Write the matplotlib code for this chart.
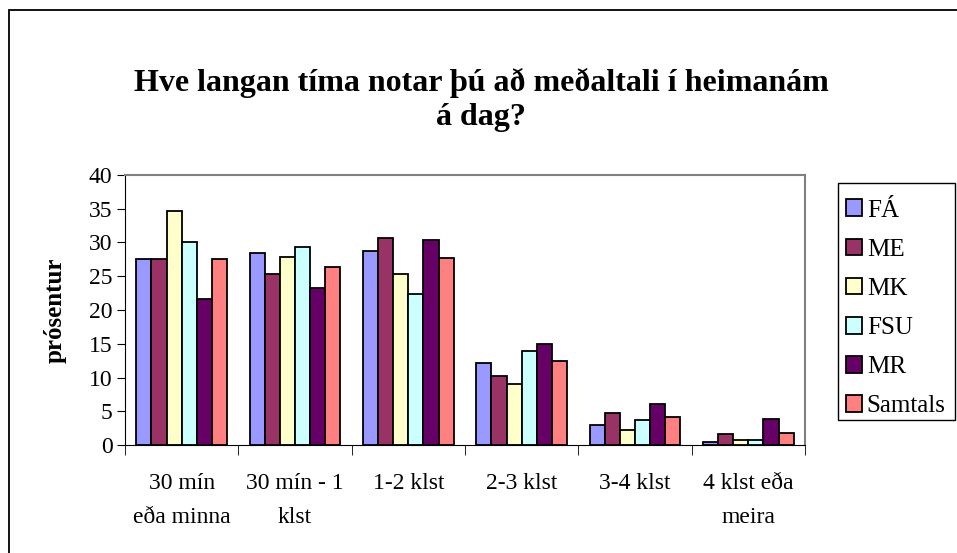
import numpy as np
import matplotlib
matplotlib.use('Agg')
import matplotlib.pyplot as plt
from matplotlib.patches import Rectangle

plt.rcParams['font.family'] = ['Liberation Serif', 'DejaVu Serif']

categories = ['30 mín\neða minna', '30 mín - 1\nklst', '1-2 klst', '2-3 klst',
              '3-4 klst', '4 klst eða\nmeira']
series_names = ['FÁ', 'ME', 'MK', 'FSU', 'MR', 'Samtals']
fa = [27.5, 28.5, 28.8, 12.2, 2.9, 0.4]
me = [27.5, 25.3, 30.7, 10.2, 4.8, 1.6]
mk = [34.6, 27.9, 25.4, 9.1, 2.2, 0.8]
fsu = [30.1, 29.3, 22.3, 14.0, 3.7, 0.7]
mr = [21.7, 23.2, 30.4, 14.9, 6.1, 3.9]
samtals = [27.5, 26.4, 27.7, 12.5, 4.2, 1.8]
colors = ['#9999FF', '#993366', '#FFFFCC', '#CCFFFF', '#660066', '#FF8080']

fig = plt.figure(figsize=(9.57, 5.53), dpi=100)
ax = fig.add_axes([125/957, 1-445/553, 680/957, 270/553])

x = np.arange(len(categories))
w = 1/7.5
allvals = [fa, me, mk, fsu, mr, samtals]
for i, vals in enumerate(allvals):
    ax.bar(x + (i - 2.5)*w, vals, width=w, color=colors[i], edgecolor='black',
           linewidth=1.3, label=series_names[i])

ax.set_xlim(-0.5, len(categories) - 0.5)
ax.set_ylim(0, 40)
ax.set_yticks(np.arange(0, 41, 5))
ax.tick_params(axis='y', labelsize=17, length=6, direction='out', pad=3)
ax.set_xticks(x)
ax.set_xticklabels(categories, fontsize=17, linespacing=1.85)
ax.tick_params(axis='x', length=0, pad=20)
ax.set_xticks(np.arange(-0.5, len(categories), 1), minor=True)
ax.tick_params(axis='x', which='minor', length=7, direction='out')
for s in ['top', 'right']:
    ax.spines[s].set_color('#808080')
    ax.spines[s].set_linewidth(1.5)
ax.spines['left'].set_color('black')
ax.spines['bottom'].set_color('black')

fig.text(55/957, 1-310/553, 'prósentur', rotation=90, ha='center', va='center',
         fontsize=18, fontweight='bold')
fig.text(481/957, 1-100/553, 'Hve langan tíma notar þú að meðaltali í heimanám\ná dag?',
         ha='center', va='center', fontsize=23, fontweight='bold', linespacing=1.25)

# legend entries without frame; box drawn separately
fig.legend(loc='upper left', bbox_to_anchor=(838/957, 1-192/553), fontsize=18,
           frameon=False, handlelength=0.65, handleheight=0.65, handletextpad=0.2,
           labelspacing=0.68, borderpad=0.3, borderaxespad=0)
fig.add_artist(Rectangle((838/957, 1-420/553), 117/957, 237/553, transform=fig.transFigure,
                         fill=False, edgecolor='black', linewidth=1.0))

fig.add_artist(Rectangle((9/957, -0.1), 1.2, 1.1 - 10/553, transform=fig.transFigure,
                         fill=False, edgecolor='black', linewidth=1.3))

fig.savefig('out.png', dpi=100)
